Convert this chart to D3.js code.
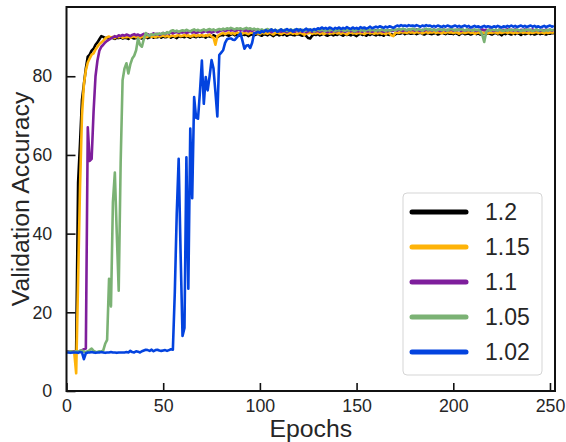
<!DOCTYPE html>
<html>
<head>
<meta charset="utf-8">
<script src="https://cdn.jsdelivr.net/npm/d3@7"></script>
<style>
  body { margin: 0; background: #fff; }
  svg { font-family: Arial, "Liberation Sans", sans-serif; }
</style>
</head>
<body>
<div id="chart"></div>
<script>
// validation accuracy per epoch (epoch = array index)
var acc120 = [
  10.0, 10.1, 10.0, 9.9, 10.0, 10.2, 53.0, 63.0, 74.0, 78.0,
  82.0, 85.0, 85.5, 86.5, 87.0, 88.0, 88.6, 89.4, 90.2, 90.0,
  89.7, 89.8, 89.6, 89.9, 89.7, 89.5, 89.8, 89.7, 89.9, 89.6,
  89.8, 89.7, 89.5, 89.9, 89.8, 89.6, 89.7, 90.0, 89.8, 89.6,
  89.9, 90.0, 89.7, 89.9, 90.1, 89.8, 90.0, 89.9, 90.2, 89.8,
  90.1, 89.9, 90.0, 90.2, 89.8, 90.1, 90.0, 89.7, 90.2, 90.0,
  90.1, 89.9, 90.3, 90.0, 89.8, 90.2, 90.1, 89.9, 90.3, 90.0,
  90.2, 90.1, 89.8, 90.3, 90.1, 90.0, 90.4, 90.2, 89.9, 90.3,
  90.5, 90.4, 90.7, 90.5, 90.3, 90.6, 90.8, 90.4, 90.6, 90.5,
  90.3, 90.7, 90.5, 90.6, 90.2, 90.5, 90.7, 90.4, 90.6, 90.8,
  90.5, 90.3, 90.7, 90.6, 90.4, 90.8, 90.5, 90.2, 90.6, 90.7,
  90.4, 90.6, 90.5, 90.8, 90.3, 90.6, 90.7, 90.5, 90.4, 90.6,
  90.7, 90.5, 90.3, 90.6, 90.2, 89.7, 89.6, 90.3, 90.6, 90.5,
  90.7, 90.4, 90.6, 90.8, 90.5, 90.3, 90.6, 90.7, 90.4, 90.6,
  90.5, 90.8, 90.6, 90.3, 90.7, 90.5, 90.6, 90.4, 90.7, 90.5,
  90.2, 90.6, 90.8, 90.5, 90.6, 90.3, 90.7, 90.5, 90.8, 90.6,
  90.4, 90.7, 90.5, 90.6, 90.3, 90.8, 90.6, 90.5, 90.7, 90.4,
  90.6, 91.0, 90.8, 90.9, 91.1, 90.7, 90.9, 91.0, 90.8, 90.9,
  91.0, 90.7, 90.9, 91.1, 90.8, 90.6, 90.9, 91.0, 90.8, 90.7,
  90.9, 91.0, 90.6, 90.8, 91.1, 90.9, 90.7, 91.0, 90.8, 90.9,
  90.7, 91.0, 90.8, 90.5, 90.9, 91.0, 90.7, 90.8, 90.9, 90.6,
  90.8, 91.0, 90.7, 90.9, 90.6, 90.8, 91.0, 90.7, 90.9, 90.8,
  90.6, 90.9, 91.0, 90.7, 90.8, 90.4, 90.9, 90.7, 91.0, 90.8,
  90.6, 90.9, 90.7, 91.0, 90.8, 90.5, 90.9, 90.7, 90.8, 91.0,
  90.7, 90.9, 90.6, 90.8, 91.0, 90.7, 90.9, 90.8, 90.6, 90.9,
  90.8, 91.0, 90.9
];

var acc115 = [
  10.0, 9.9, 10.1, 10.0, 9.9, 4.5, 28.0, 52.0, 70.0, 78.0,
  81.5, 83.5, 84.5, 85.5, 85.8, 86.8, 87.5, 88.2, 88.6, 89.0,
  89.6, 89.9, 90.1, 89.8, 90.0, 89.7, 90.1, 89.9, 90.2, 89.8,
  90.0, 89.9, 90.1, 89.8, 90.0, 90.2, 89.9, 90.1, 89.8, 90.0,
  90.2, 89.9, 90.1, 90.3, 90.0, 90.2, 89.9, 90.3, 90.1, 90.2,
  90.4, 90.1, 90.3, 90.0, 90.2, 90.4, 90.1, 90.3, 90.5, 90.2,
  90.3, 90.5, 90.2, 90.4, 90.1, 90.3, 90.5, 90.2, 90.4, 90.3,
  90.5, 90.2, 90.4, 90.3, 90.6, 90.1, 89.8, 88.0, 90.2, 90.5,
  90.8, 91.0, 90.7, 90.9, 91.1, 90.8, 91.0, 90.7, 91.2, 90.9,
  91.0, 90.8, 91.1, 90.9, 90.7, 91.0, 91.2, 90.8, 91.0, 90.9,
  90.7, 91.1, 90.9, 91.0, 90.8, 91.1, 90.9, 90.6, 91.0, 91.2,
  90.9, 90.7, 91.0, 91.1, 90.8, 90.9, 91.1, 90.8, 91.0, 90.7,
  90.9, 91.1, 90.8, 90.5, 91.0, 90.9, 91.1, 90.8, 91.0, 90.9,
  91.1, 90.8, 91.0, 90.7, 90.9, 91.1, 90.8, 91.0, 90.9, 91.2,
  90.9, 91.0, 90.8, 91.1, 90.9, 90.6, 91.0, 91.2, 90.9, 91.0,
  90.8, 91.1, 90.9, 91.0, 90.7, 91.0, 91.2, 90.9, 91.1, 90.8,
  91.0, 90.9, 91.1, 90.8, 91.0, 90.7, 91.1, 90.9, 90.4, 90.2,
  91.0, 91.2, 91.0, 91.3, 91.1, 91.2, 91.0, 91.3, 91.1, 91.2,
  91.0, 91.3, 91.1, 91.2, 90.9, 91.1, 91.3, 91.0, 91.2, 91.1,
  91.3, 91.0, 91.2, 91.1, 90.9, 91.2, 91.0, 91.3, 91.1, 91.2,
  91.0, 91.2, 91.1, 90.8, 91.1, 91.2, 91.0, 91.1, 91.3, 91.0,
  91.1, 90.8, 91.0, 91.2, 90.9, 91.1, 91.0, 91.2, 90.9, 91.1,
  91.0, 91.2, 91.1, 90.9, 91.2, 91.0, 91.1, 91.3, 91.0, 91.2,
  91.1, 90.9, 91.2, 91.0, 91.1, 91.3, 91.0, 91.2, 91.1, 90.9,
  91.2, 91.0, 91.1, 91.3, 91.0, 91.2, 91.1, 90.9, 91.2, 91.0,
  91.1, 91.2, 91.0
];

var acc110 = [
  10.0, 10.1, 9.9, 10.0, 10.1, 10.0, 9.9, 10.2, 10.4, 10.6,
  10.8, 67.0, 58.5, 59.0, 71.0, 80.0, 84.0, 86.5, 87.5, 88.0,
  88.6, 89.0, 89.3, 89.6, 89.9, 90.2, 90.0, 90.4, 90.2, 90.5,
  90.3, 90.6, 90.4, 90.2, 90.5, 90.7, 90.4, 90.6, 90.3, 90.5,
  90.8, 90.5, 90.7, 90.4, 90.6, 90.9, 90.6, 90.8, 90.5, 90.7,
  91.0, 90.7, 91.1, 90.8, 91.2, 90.9, 91.1, 91.3, 91.0, 91.2,
  91.1, 91.3, 91.0, 91.2, 91.4, 91.1, 91.3, 91.0, 91.2, 91.4,
  91.1, 91.3, 91.5, 91.2, 91.4, 91.1, 91.3, 91.6, 91.2, 91.4,
  91.6, 91.8, 91.5, 91.7, 91.9, 91.6, 91.8, 91.5, 91.7, 91.9,
  91.6, 91.8, 91.5, 91.7, 91.4, 91.7, 91.5, 91.8, 91.6, 91.4,
  91.6, 91.3, 91.5, 91.7, 91.4, 91.6, 91.2, 91.5, 91.7, 91.4,
  91.5, 91.3, 91.6, 91.4, 91.2, 91.5, 91.7, 91.4, 91.3, 91.6,
  91.4, 91.6, 91.3, 91.5, 91.2, 91.4, 91.6, 91.3, 91.5, 91.4,
  91.6, 91.3, 91.5, 91.7, 91.4, 91.2, 91.5, 91.3, 91.6, 91.4,
  91.5, 91.7, 91.4, 91.6, 91.3, 91.5, 91.7, 91.4, 91.6, 91.3,
  91.5, 91.4, 91.6, 91.3, 91.7, 91.5, 91.4, 91.6, 91.3, 91.5,
  91.7, 91.4, 91.6, 91.5, 91.3, 91.6, 91.4, 91.7, 91.5, 91.6,
  91.8, 91.6, 91.9, 91.7, 91.5, 91.8, 91.6, 91.9, 91.7, 91.8,
  91.6, 91.9, 91.7, 91.5, 91.8, 91.6, 91.9, 91.7, 91.8, 91.6,
  91.9, 91.7, 91.8, 91.5, 91.7, 91.9, 91.6, 91.8, 91.7, 91.9,
  91.6, 91.8, 91.7, 91.9, 91.5, 91.8, 91.6, 91.7, 91.9, 91.6,
  91.8, 91.7, 91.5, 91.8, 91.6, 91.9, 91.7, 91.8, 91.6, 91.9,
  91.7, 91.5, 91.8, 91.6, 91.9, 91.7, 91.8, 91.6, 92.0, 91.7,
  91.8, 91.6, 91.9, 91.7, 91.5, 91.8, 91.7, 91.9, 91.6, 91.8,
  91.7, 91.9, 91.6, 91.8, 91.7, 91.5, 91.8, 91.6, 91.9, 91.7,
  91.8, 91.6, 91.8
];

var acc105 = [
  10.0, 9.9, 10.1, 10.0, 9.9, 10.1, 10.0, 10.2, 10.3, 10.0,
  9.9, 10.1, 10.4, 10.8, 10.2, 10.0, 9.9, 10.1, 10.0, 10.3,
  12.0, 13.0, 28.5, 21.5, 48.0, 55.5, 40.0, 25.5, 58.0, 79.0,
  82.0, 83.3, 80.7, 83.0, 84.5, 85.2, 86.6, 89.6, 88.0, 87.5,
  89.5, 91.0, 90.5, 90.3, 90.7, 90.5, 90.8, 90.6, 90.9, 90.7,
  91.0, 90.8, 91.2, 91.0, 91.5, 91.7, 91.4, 91.6, 91.3, 91.5,
  91.7, 91.5, 91.8, 91.6, 91.4, 91.7, 91.9, 91.6, 91.8, 91.5,
  91.7, 91.9, 91.6, 91.8, 92.0, 91.7, 91.9, 91.6, 91.8, 92.0,
  91.8, 92.1, 91.9, 92.2, 92.0, 92.3, 92.1, 91.9, 92.2, 92.0,
  92.2, 91.9, 92.1, 92.3, 92.0, 92.2, 91.9, 92.1, 91.8, 92.0,
  91.7, 91.9, 91.6, 91.8, 92.0, 91.7, 91.9, 91.6, 91.8, 91.5,
  91.7, 91.9, 91.6, 91.8, 91.5, 91.7, 91.9, 91.6, 91.8, 91.7,
  91.9, 91.6, 91.8, 91.5, 91.7, 91.9, 91.6, 91.8, 91.4, 91.7,
  91.9, 91.6, 91.8, 91.7, 91.5, 91.8, 91.6, 91.9, 91.7, 91.5,
  91.8, 91.6, 91.9, 91.7, 91.5, 91.8, 91.6, 91.9, 91.7, 91.4,
  91.7, 91.9, 91.6, 91.8, 91.5, 91.7, 91.9, 91.6, 91.8, 91.7,
  91.5, 91.8, 91.6, 91.9, 91.7, 91.5, 91.8, 91.6, 91.7, 91.9,
  91.7, 91.9, 92.0, 91.8, 92.1, 91.9, 91.7, 92.0, 91.8, 92.1,
  91.9, 91.7, 92.0, 91.8, 91.6, 91.9, 92.1, 91.8, 92.0, 91.7,
  91.9, 91.6, 91.8, 92.0, 91.7, 91.9, 91.8, 91.6, 91.9, 92.0,
  91.8, 91.6, 91.9, 91.7, 92.0, 91.8, 91.6, 91.9, 91.7, 91.8,
  91.6, 91.9, 91.7, 91.8, 91.5, 90.5, 88.7, 91.2, 91.8, 91.6,
  91.9, 91.7, 91.8, 91.6, 91.9, 91.7, 91.5, 91.8, 91.6, 91.9,
  91.7, 91.8, 91.6, 91.9, 91.7, 91.5, 91.8, 91.6, 91.9, 91.7,
  91.8, 91.5, 91.7, 91.9, 91.6, 91.8, 91.7, 91.5, 91.8, 91.6,
  91.9, 91.7, 91.8
];

var acc102 = [
  9.8, 9.8, 9.7, 9.8, 9.8, 9.8, 9.7, 9.9, 9.8, 8.1,
  9.6, 9.8, 9.8, 9.9, 9.8, 9.7, 9.8, 9.8, 9.9, 9.8,
  9.7, 9.8, 9.8, 9.9, 9.8, 9.8, 9.7, 9.8, 9.8, 9.8,
  9.8, 9.9, 9.8, 10.2, 9.9, 9.8, 10.1, 10.0, 9.8, 10.1,
  10.3, 10.5, 10.4, 10.2, 10.5, 10.1, 10.4, 10.5, 10.3, 10.2,
  10.3, 10.4, 10.2, 10.4, 10.6, 10.5, 25.0, 45.0, 59.0, 35.0,
  14.0, 16.0, 59.4, 26.0, 66.7, 49.0, 74.7, 69.5, 69.2, 76.0,
  84.0, 73.0, 79.8, 76.4, 80.0, 84.1, 82.0, 76.0, 69.8, 85.4,
  86.0, 86.6, 88.5, 89.4, 89.6, 89.6, 89.3, 89.2, 89.8, 90.4,
  90.9, 89.0, 87.0, 87.8, 87.9, 87.2, 88.5, 90.9, 91.0, 91.3,
  91.0, 91.5, 91.2, 91.7, 91.4, 91.6, 91.9, 91.5, 91.8, 91.3,
  91.6, 91.9, 91.5, 91.7, 92.0, 91.6, 91.8, 91.4, 91.7, 92.0,
  91.6, 91.9, 91.5, 91.8, 92.1, 91.7, 91.9, 91.6, 92.0, 91.8,
  92.2, 92.0, 92.4, 92.1, 92.3, 92.0, 92.4, 92.2, 91.9, 92.3,
  92.1, 92.4, 92.0, 92.3, 92.1, 92.5, 92.2, 92.0, 92.4, 92.1,
  92.3, 92.0, 92.5, 92.2, 92.4, 92.1, 92.3, 92.6, 92.2, 92.4,
  92.6, 92.4, 92.7, 92.5, 92.3, 92.6, 92.4, 92.7, 92.5, 92.3,
  92.6, 92.9, 92.7, 93.0, 92.8, 92.9, 92.7, 93.0, 92.8, 92.9,
  92.7, 93.0, 92.8, 92.6, 92.9, 92.7, 93.0, 92.8, 92.9, 92.6,
  92.8, 92.6, 92.9, 92.7, 92.5, 92.8, 92.6, 92.9, 92.7, 92.5,
  92.7, 92.9, 92.6, 92.8, 92.5, 92.7, 92.9, 92.6, 92.8, 92.4,
  92.6, 92.8, 92.5, 92.7, 92.4, 92.6, 92.8, 92.5, 92.7, 92.6,
  92.4, 92.7, 92.5, 92.8, 92.6, 92.4, 92.7, 92.5, 92.8, 92.6,
  92.9, 92.6, 92.8, 92.5, 92.7, 92.9, 92.6, 92.8, 92.5, 92.7,
  92.9, 92.6, 92.8, 92.5, 92.7, 92.4, 92.6, 92.8, 92.5, 92.7,
  92.9, 92.6, 92.8
];

var seriesNames = ["1.2", "1.15", "1.1", "1.05", "1.02"];
var seriesColors = ["#000000", "#feb308", "#7e1e9c", "#7bb274", "#0343df"];
var seriesValues = [acc120, acc115, acc110, acc105, acc102];
var xTicks = [0, 50, 100, 150, 200, 250];
var yTicks = [0, 20, 40, 60, 80];

var width = 566,
  height = 442;
var margin = { top: 7, right: 11, bottom: 51, left: 66.5 };
var plotW = width - margin.left - margin.right,
  plotH = height - margin.top - margin.bottom;

var x = d3.scaleLinear().domain([0, 252.6]).range([0, plotW]);
var y = d3.scaleLinear().domain([0, 97.6]).range([plotH, 0]);

var svg = d3
  .select("#chart")
  .append("svg")
  .attr("width", width)
  .attr("height", height);

var g = svg
  .append("g")
  .attr("transform", "translate(" + margin.left + "," + margin.top + ")");

g.append("clipPath")
  .attr("id", "plot-clip")
  .append("rect")
  .attr("width", plotW)
  .attr("height", plotH);

var line = d3
  .line()
  .x(function(d, i) {
    return x(i);
  })
  .y(function(d) {
    return y(d);
  });

g.append("g")
  .attr("clip-path", "url(#plot-clip)")
  .selectAll("path")
  .data(seriesValues)
  .enter()
  .append("path")
  .attr("fill", "none")
  .attr("stroke", function(d, i) {
    return seriesColors[i];
  })
  .attr("stroke-width", 2.6)
  .attr("stroke-linejoin", "round")
  .attr("d", line);

// ticks point inward, like the seaborn "ticks" style
var xAxis = g
  .append("g")
  .attr("transform", "translate(0," + plotH + ")")
  .call(d3.axisBottom(x).tickValues(xTicks).tickSizeInner(-8).tickSizeOuter(0).tickPadding(8));
var yAxis = g
  .append("g")
  .call(d3.axisLeft(y).tickValues(yTicks).tickSizeInner(-9).tickSizeOuter(0).tickPadding(17));

[xAxis, yAxis].forEach(function(ax) {
  ax.select(".domain").remove();
  ax.selectAll(".tick line").attr("stroke", "#111").attr("stroke-width", 1.6);
  ax.selectAll(".tick text")
    .attr("fill", "#262626")
    .attr("font-size", "17.8px")
    .attr("font-family", "Arial, 'Liberation Sans', sans-serif");
});
yAxis.selectAll(".tick text").attr("dx", "0.15em");

g.append("rect")
  .attr("width", plotW)
  .attr("height", plotH)
  .attr("fill", "none")
  .attr("stroke", "#111")
  .attr("stroke-width", 2);

svg
  .append("text")
  .attr("x", margin.left + plotW / 2)
  .attr("y", 437)
  .attr("text-anchor", "middle")
  .attr("font-size", "24.8px")
  .attr("fill", "#262626")
  .text("Epochs");

svg
  .append("text")
  .attr("transform", "translate(29," + (margin.top + plotH / 2) + ") rotate(-90)")
  .attr("text-anchor", "middle")
  .attr("font-size", "24.8px")
  .attr("fill", "#262626")
  .text("Validation Accuracy");

// legend
var legend = svg.append("g").attr("transform", "translate(403,193)");
legend
  .append("rect")
  .attr("width", 139)
  .attr("height", 182)
  .attr("rx", 4)
  .attr("fill", "rgba(255,255,255,0.85)")
  .attr("stroke", "#d5d5d5")
  .attr("stroke-width", 1);

var rows = legend
  .selectAll("g.row")
  .data(seriesNames)
  .enter()
  .append("g")
  .attr("class", "row")
  .attr("transform", function(d, i) {
    return "translate(0," + (19 + i * 35) + ")";
  });
rows
  .append("line")
  .attr("x1", 9)
  .attr("x2", 63)
  .attr("stroke", function(d, i) {
    return seriesColors[i];
  })
  .attr("stroke-width", 5)
  .attr("stroke-linecap", "round");
rows
  .append("text")
  .attr("x", 82)
  .attr("dy", "0.36em")
  .attr("font-size", "23px")
  .attr("fill", "#262626")
  .text(function(d) {
    return d;
  });
</script>
</body>
</html>
